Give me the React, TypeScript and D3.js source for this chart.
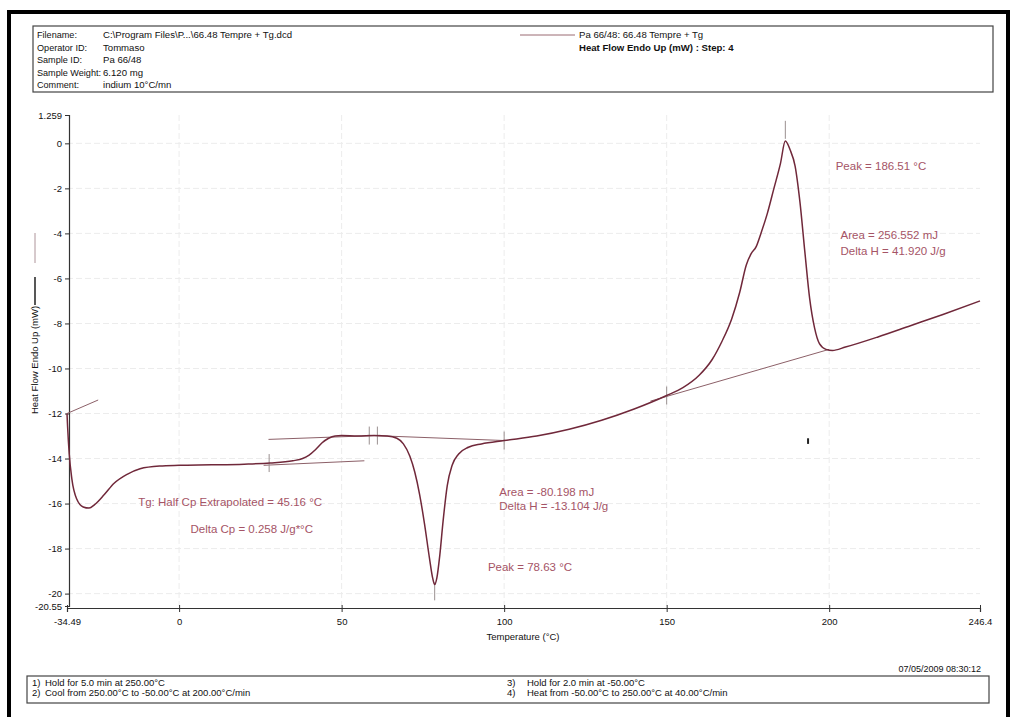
import React, { useEffect, useRef } from 'react';
import * as d3 from 'd3';

// heat flow curve, step 4 (temperature in °C, heat flow in mW)
const temps = [
  -34.49, -34.3, -33.8, -33.0, -31.5, -29.5, -27.7, -26.0, -23.0, -20.0, -16.0, -12.0, -6.0, 0,
  10, 20, 28, 35, 38, 40, 42, 44, 46, 48, 50, 55, 60, 64, 67, 69, 71, 72.5, 74, 75.5, 77, 78,
  78.63, 79.3, 80.2, 81.2, 82.5, 84, 86, 89, 93, 100, 110, 120, 130, 140, 150, 155, 160, 164,
  167, 170, 172.5, 174.5, 176, 177.5, 179, 181, 183, 185, 186.51, 188, 189.5, 191, 192.5, 194,
  195.5, 197, 199, 201, 205, 215, 225, 235, 246.4,
];
const heatFlow = [
  -12.0, -12.6, -13.8, -14.9, -15.8, -16.15, -16.2, -16.05, -15.6, -15.1, -14.7, -14.45, -14.33, -14.3,
  -14.28, -14.25, -14.2, -14.1, -14.0, -13.85, -13.6, -13.3, -13.1, -13.0, -12.98, -13.0, -12.98, -13.0,
  -13.1, -13.35, -13.9, -14.6, -15.6, -16.9, -18.4, -19.3,
  -19.6, -19.3, -18.3, -16.8, -15.2, -14.3, -13.8, -13.5, -13.35, -13.2, -13.0, -12.7, -12.3, -11.8,
  -11.2, -10.85, -10.3, -9.6, -8.8, -7.8, -6.6, -5.4, -4.9, -4.6, -4.0, -3.1, -2.0, -0.9, 0.1, -0.3,
  -1.0, -2.6, -4.8, -6.9, -8.2, -8.9, -9.15, -9.2, -9.05, -8.6, -8.1, -7.6, -7.0,
];

// construction lines drawn by the analysis software: [T1, v1, T2, v2]
const helperLines = [
  [-34.49, -12.0, -24.9, -11.4],
  [27.5, -13.15, 62, -12.97],
  [26, -14.3, 57, -14.1],
  [58, -12.97, 100, -13.2],
  [145, -11.45, 200, -9.15],
];
// small vertical markers: [T, value]
const markers = [
  [27.7, -14.2], [58.5, -12.98], [61, -12.98], [100, -13.2], [78.63, -19.9], [150, -11.2], [186.51, 0.6],
];

const xTicks = [-34.49, 0, 50, 100, 150, 200, 246.4];
const xTickLabels = ['-34.49', '0', '50', '100', '150', '200', '246.4'];
const yTicks = [1.259, 0, -2, -4, -6, -8, -10, -12, -14, -16, -18, -20, -20.55];
const yTickLabels = ['1.259', '0', '-2', '-4', '-6', '-8', '-10', '-12', '-14', '-16', '-18', '-20', '-20.55'];

const headerLabels = ['Filename:', 'Operator ID:', 'Sample ID:', 'Sample Weight:', 'Comment:'];
const headerValues = ['C:\\Program Files\\P...\\66.48 Tempre + Tg.dcd', 'Tommaso', 'Pa 66/48', '6.120 mg', 'indium 10°C/mn'];
const legendLines = ['Pa 66/48: 66.48 Tempre + Tg', 'Heat Flow Endo Up (mW) : Step: 4'];
const methodNums = ['1)', '2)', '3)', '4)'];
const methodSteps = [
  'Hold for 5.0 min at 250.00°C',
  'Cool from 250.00°C to -50.00°C at 200.00°C/min',
  'Hold for 2.0 min at -50.00°C',
  'Heat from -50.00°C to 250.00°C at 40.00°C/min',
];

// annotations: [T, value, text]
const notes: [number, number, string][] = [
  [202, -1.2, 'Peak = 186.51 °C'],
  [203.5, -4.27, 'Area = 256.552 mJ'],
  [203.5, -4.98, 'Delta H = 41.920 J/g'],
  [-12.6, -16.1, 'Tg: Half Cp Extrapolated = 45.16 °C'],
  [3.5, -17.3, 'Delta Cp = 0.258 J/g*°C'],
  [98.5, -15.65, 'Area = -80.198 mJ'],
  [98.5, -16.3, 'Delta H = -13.104 J/g'],
  [95, -19.0, 'Peak = 78.63 °C'],
];

const CURVE = '#70283a';
const HELPER = '#8c6068';
const NOTE = '#a55466';
const FONT = '"Liberation Sans", Arial, sans-serif';

export default function App() {
  const svgRef = useRef<SVGSVGElement>(null);

  useEffect(() => {
    const svg = d3.select(svgRef.current);
    svg.selectAll('*').remove();
    svg.style('font-family', FONT);

    const x = d3.scaleLinear().domain([-34.49, 246.4]).range([67, 980]);
    const y = d3.scaleLinear().domain([-20.55, 1.259]).range([606, 115]);

    // frame of the scanned page (top, left, right)
    svg.append('path').attr('d', 'M9,717 V12 H1008 V717')
      .attr('fill', 'none').attr('stroke', '#000').attr('stroke-width', 4);

    // header box
    svg.append('rect').attr('x', 33).attr('y', 26).attr('width', 960).attr('height', 66)
      .attr('fill', 'none').attr('stroke', '#444').attr('stroke-width', 1.2);
    headerLabels.forEach((t, i) => {
      svg.append('text').attr('x', 37).attr('y', 38 + i * 12.5).attr('font-size', 9.1).attr('fill', '#111').text(t);
      svg.append('text').attr('x', 103).attr('y', 38 + i * 12.5).attr('font-size', 9.6).attr('fill', '#111').text(headerValues[i]);
    });
    svg.append('line').attr('x1', 520).attr('x2', 575).attr('y1', 35).attr('y2', 35)
      .attr('stroke', '#9a6a72').attr('stroke-width', 1);
    legendLines.forEach((t, i) => {
      svg.append('text').attr('x', 579).attr('y', 38 + i * 12.5).attr('font-size', 9.6)
        .attr('font-weight', i === 1 ? 'bold' : 'normal').attr('fill', '#111').text(t);
    });

    // grid
    const grid = svg.append('g').attr('stroke', '#ececec').attr('stroke-width', 1).attr('stroke-dasharray', '6,3');
    yTicks.slice(1, -1).forEach((v) => {
      grid.append('line').attr('x1', x(-34.49)).attr('x2', x(246.4)).attr('y1', y(v)).attr('y2', y(v));
    });
    xTicks.slice(1, -1).forEach((v) => {
      grid.append('line').attr('x1', x(v)).attr('x2', x(v)).attr('y1', y(1.259)).attr('y2', y(-20.55));
    });

    // axes
    const yAxis = d3.axisLeft(y).tickValues(yTicks).tickSize(4).tickPadding(3)
      .tickFormat((_d, i) => yTickLabels[i]);
    const gy = svg.append('g').attr('transform', `translate(${x(-34.49) + 2},0)`).call(yAxis);
    const xAxis = d3.axisBottom(x).tickValues(xTicks).tickSize(4).tickPadding(6)
      .tickFormat((_d, i) => xTickLabels[i]);
    const gx = svg.append('g').attr('transform', `translate(0,${y(-20.55) + 2})`).call(xAxis);
    [gx, gy].forEach((g) => {
      g.select('.domain').attr('stroke', '#333').attr('stroke-width', 1.2);
      g.selectAll('.tick line').attr('stroke', '#333');
      g.selectAll('.tick text').attr('font-family', FONT).attr('font-size', 9.5).attr('fill', '#111');
    });
    gx.selectAll('.tick line').attr('y1', -3);

    svg.append('text').attr('x', 523).attr('y', 640).attr('text-anchor', 'middle')
      .attr('font-size', 9.5).attr('fill', '#111').text('Temperature (°C)');

    // y axis title with legend sample lines
    svg.append('text').attr('transform', 'translate(38,360) rotate(-90)').attr('text-anchor', 'middle')
      .attr('font-size', 9.5).attr('fill', '#111').text('Heat Flow Endo Up (mW)');
    svg.append('line').attr('x1', 35).attr('x2', 35).attr('y1', 233).attr('y2', 263)
      .attr('stroke', '#9a7a80').attr('stroke-width', 0.8);
    svg.append('line').attr('x1', 35).attr('x2', 35).attr('y1', 277).attr('y2', 305)
      .attr('stroke', '#111').attr('stroke-width', 1.4);

    // helper lines
    helperLines.forEach(([t1, v1, t2, v2]) => {
      svg.append('line').attr('x1', x(t1)).attr('y1', y(v1)).attr('x2', x(t2)).attr('y2', y(v2))
        .attr('stroke', HELPER).attr('stroke-width', 1);
    });
    markers.forEach(([t, v]) => {
      svg.append('line').attr('x1', x(t)).attr('x2', x(t)).attr('y1', y(v) - 9).attr('y2', y(v) + 9)
        .attr('stroke', '#9a9090').attr('stroke-width', 1);
    });

    // main curve
    const pts = temps.map((t, i) => [t, heatFlow[i]] as [number, number]);
    const line = d3.line<[number, number]>().x((d) => x(d[0])).y((d) => y(d[1])).curve(d3.curveMonotoneX);
    svg.append('path').attr('d', line(pts)).attr('fill', 'none').attr('stroke', CURVE).attr('stroke-width', 1.5);

    // stray scan mark
    svg.append('line').attr('x1', x(193.5)).attr('x2', x(193.5)).attr('y1', y(-13.1)).attr('y2', y(-13.35))
      .attr('stroke', '#222').attr('stroke-width', 2);

    // annotations
    notes.forEach(([t, v, s]) => {
      svg.append('text').attr('x', x(t)).attr('y', y(v)).attr('font-size', 11.5).attr('fill', NOTE).text(s);
    });

    // timestamp and method box
    svg.append('text').attr('x', 981).attr('y', 672).attr('text-anchor', 'end')
      .attr('font-size', 9).attr('fill', '#111').text('07/05/2009 08:30:12');
    svg.append('rect').attr('x', 27).attr('y', 676).attr('width', 962).attr('height', 27)
      .attr('fill', 'none').attr('stroke', '#444').attr('stroke-width', 1.2);
    methodSteps.forEach((s, i) => {
      const left = i < 2;
      const yy = 686 + (i % 2) * 10;
      svg.append('text').attr('x', left ? 32 : 507).attr('y', yy).attr('font-size', 9.5).attr('fill', '#111').text(methodNums[i]);
      svg.append('text').attr('x', left ? 45 : 527).attr('y', yy).attr('font-size', 9.5).attr('fill', '#111').text(s);
    });
  }, []);

  return (
    <svg ref={svgRef} width={1010} height={717}
      style={{ position: 'absolute', left: 0, top: 0, background: '#fff', display: 'block' }} />
  );
}
